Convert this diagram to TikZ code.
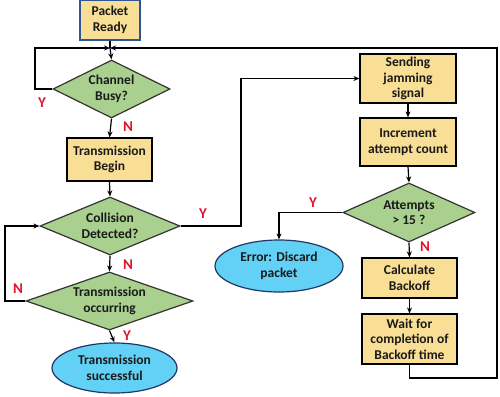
\documentclass[tikz,border=0pt]{standalone}
\usepackage{fontspec}
\setmainfont{Carlito}
\usetikzlibrary{shapes.geometric,arrows.meta}
\definecolor{boxfill}{HTML}{F9DF95}
\definecolor{dfill}{HTML}{A9D08E}
\definecolor{efill}{HTML}{63D0F5}
\definecolor{eborder}{HTML}{1F3864}
\definecolor{rborder}{HTML}{2F5597}
\definecolor{lab}{HTML}{E0142C}
\definecolor{txt}{HTML}{1A1A1A}
\tikzset{
  base/.style={font=\fontsize{13.5}{15.5}\selectfont\bfseries, text=txt, align=center, inner sep=0pt, line width=1.2pt},
  procbox/.style={base, rectangle, draw=black, fill=boxfill},
  decide/.style={base, diamond, draw=black!80, fill=dfill},
  term/.style={base, ellipse, draw=eborder, fill=efill},
  conn/.style={line width=1.2pt, -{Stealth[length=6pt,width=5pt]}},
  plain/.style={line width=1.2pt},
  yn/.style={text=lab, font=\fontsize{15}{15}\selectfont\bfseries}
}
\begin{document}
\begin{tikzpicture}[x=1pt,y=-1pt]
\useasboundingbox (0,0) rectangle (500,396);
\node[procbox, draw=rborder, minimum width=60pt, minimum height=40pt] (ready) at (110,20) {Packet\\Ready};
\node[decide, shape aspect=2, minimum width=117pt, minimum height=58pt] (busy) at (111.5,89) {Channel\\Busy?};
\node[procbox, minimum width=85pt, minimum height=43pt] (begin) at (109.5,159.5) {Transmission\\Begin};
\node[decide, shape aspect=2.4, minimum width=140pt, minimum height=58pt] (coll) at (110,226) {Collision\\Detected?};
\node[decide, shape aspect=2.9, minimum width=167pt, minimum height=58pt] (occ) at (109.5,301) {Transmission\\occurring};
\node[term, minimum width=125pt, minimum height=50pt] (succ) at (114.5,368) {Transmission\\successful};
\node[procbox, minimum width=96pt, minimum height=49pt] (jam) at (408,78.5) {Sending\\jamming\\signal};
\node[procbox, minimum width=96pt, minimum height=48pt] (inc) at (408,142) {Increment\\attempt count};
\node[decide, shape aspect=2.2, minimum width=132pt, minimum height=59pt] (att) at (409,212.5) {Attempts\\> 15 ?};
\node[term, minimum width=128pt, minimum height=52pt] (err) at (279,266) {Error: Discard\\packet};
\node[procbox, minimum width=95pt, minimum height=40pt] (calc) at (409.5,278) {Calculate\\Backoff};
\node[procbox, minimum width=95pt, minimum height=50pt] (wait) at (409.5,339) {Wait for\\completion of\\Backoff time};

\coordinate (m) at (110,48);
\coordinate (bl) at (35,89);
\coordinate (cj) at (241,226);
\coordinate (ol) at (5,301);
\coordinate (br) at (497,378);

\draw[plain] (ready.south) -- (m);
\draw[conn] (busy.west) -- (bl) |- (m);
\draw[conn] (wait.south) |- (br) |- (m);
\draw[conn] (m) -- (busy.north);
\draw[conn] (busy.south) -- (begin.north);
\draw[conn] (begin.south) -- (coll.north);
\draw[conn] (coll.east) -- (cj) |- (jam.west);
\draw[conn] (coll.south) -- (occ.north);
\draw[conn] (occ.west) -- (ol) |- (coll.west);
\draw[conn] (occ.south) -- (succ.north);
\draw[conn] (jam.south) -- (inc.north);
\draw[conn] (inc.south) -- (att.north);
\draw[conn] (att.west) -| (err.north);
\draw[conn] (att.south) -- (calc.north);
\draw[conn] (calc.south) -- (wait.north);

\node[yn] (y1) at (42,103) {Y};
\node[yn] (n1) at (128,127) {N};
\node[yn] (y2) at (203,214) {Y};
\node[yn] (n2) at (128,265) {N};
\node[yn] (n3) at (18,289) {N};
\node[yn] (y3) at (127,336) {Y};
\node[yn] (y4) at (313,203) {Y};
\node[yn] (n4) at (425,247) {N};
\end{tikzpicture}
\end{document}
